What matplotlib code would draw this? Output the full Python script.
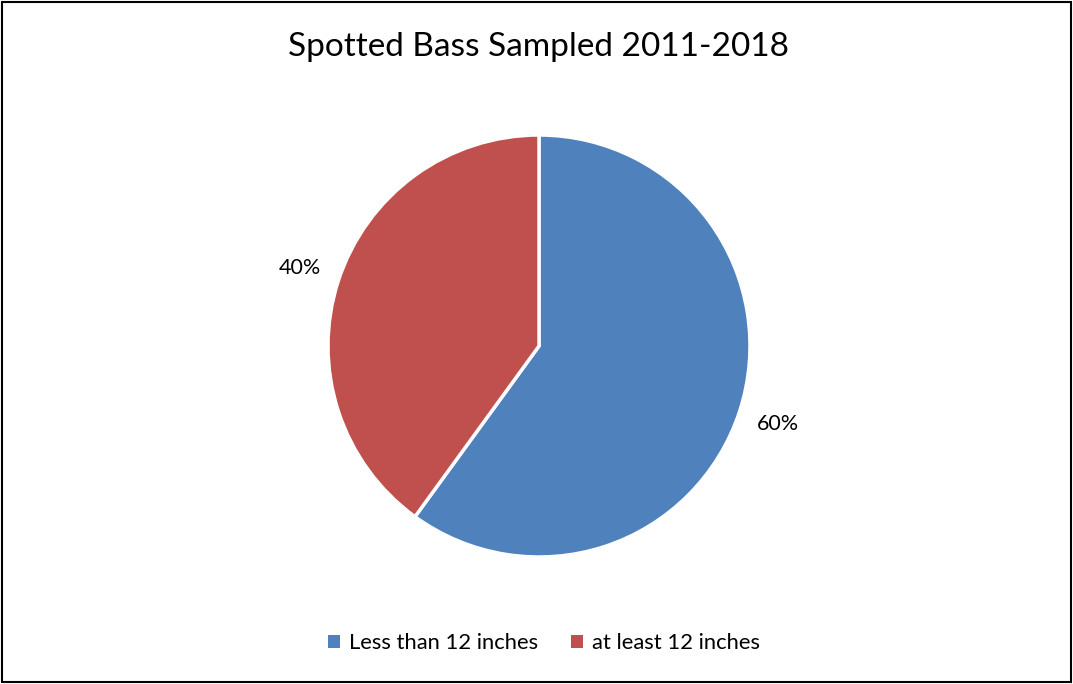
import matplotlib
matplotlib.use("Agg")
import matplotlib.pyplot as plt
from matplotlib.patches import Rectangle, Patch

categories = ["Less than 12 inches", "at least 12 inches"]
shares = [60, 40]
colors = ["#4F81BD", "#C0504D"]
title = "Spotted Bass Sampled 2011-2018"

plt.rcParams["font.family"] = ["Lato", "DejaVu Sans"]

W, H = 1073, 684
fig = plt.figure(figsize=(W / 100, H / 100), dpi=100)

# chart frame
fig.add_artist(Rectangle((2 / W, 2 / H), (W - 4) / W, (H - 4) / H,
                         transform=fig.transFigure, fill=False,
                         edgecolor="black", linewidth=1.5))

cx, cy, r = 539, 346, 211
ax = fig.add_axes([(cx - r) / W, (H - cy - r) / H, 2 * r / W, 2 * r / H])
wedges, _, autotexts = ax.pie(
    shares, colors=colors, startangle=90, counterclock=False,
    autopct="%1.0f%%", pctdistance=1.19, radius=1,
    wedgeprops=dict(edgecolor="white", linewidth=2.5),
    textprops=dict(fontsize=15.5, color="black"))
ax.set_xlim(-1, 1)
ax.set_ylim(-1, 1)
ax.set_aspect("auto")
ax.axis("off")

fig.text(cx / W, 1 - 47 / H, title, ha="center", va="center", fontsize=24)

handles = [Patch(facecolor=c, edgecolor="none") for c in colors]
fig.legend(handles, categories, loc="center", bbox_to_anchor=(544 / W, 1 - 643 / H),
           ncol=2, frameon=False, fontsize=15.8, handlelength=0.55,
           handleheight=0.55, handletextpad=0.4, columnspacing=1.5)

fig.savefig("out.png", dpi=100)
